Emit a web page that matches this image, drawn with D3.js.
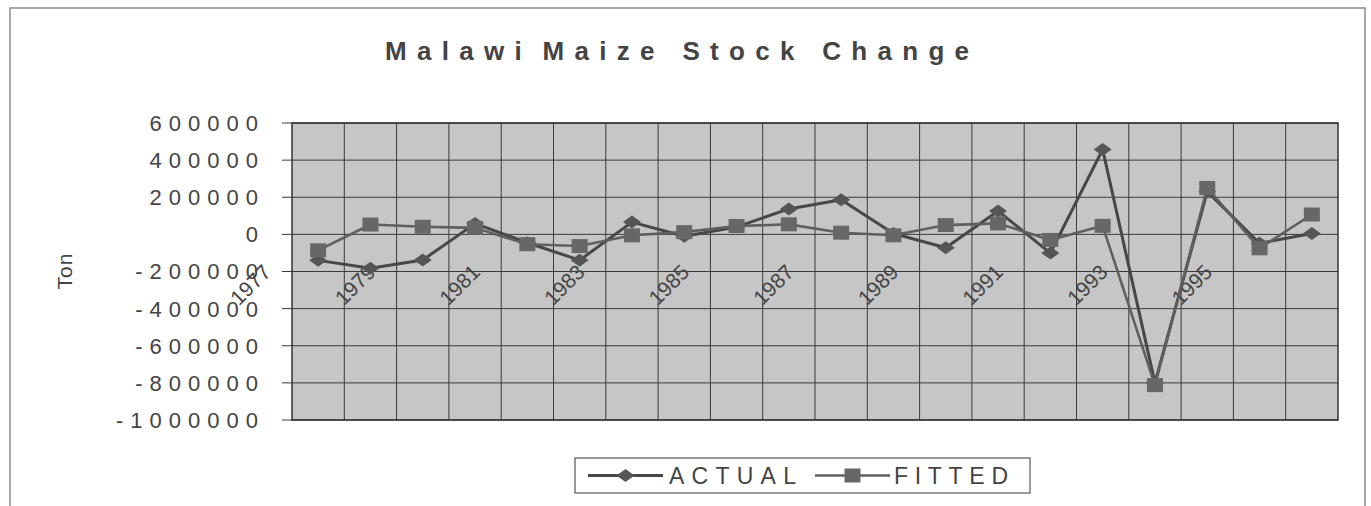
<!DOCTYPE html>
<html>
<head>
<meta charset="utf-8">
<script src="https://unpkg.com/d3@7/dist/d3.min.js"></script>
<style>
  body { margin: 0; background: #fff; }
  svg { display: block; font-family: Arial, "Liberation Sans", sans-serif; }
</style>
</head>
<body>
<script>
// data (tons)
const years = d3.range(1977, 1997);
const actual = [-140000, -182000, -138000, 58000, -45000, -139000, 66000, -10000, 40000, 137000,
  187000, 5000, -72000, 126000, -101000, 457000, -800000, 230000, -48000, 5000];
const fitted = [-86000, 53000, 41000, 35000, -53000, -63000, -5000, 12000, 45000, 54000,
  9000, -5000, 50000, 59000, -30000, 46000, -812000, 250000, -75000, 107000];
const yTicks = [600000, 400000, 200000, 0, -200000, -400000, -600000, -800000, -1000000];
const xTickYears = years.filter((d) => (d - 1977) % 2 === 0);

// layout
const width = 1371;
const height = 506;
const plot = { left: 292, right: 1338, top: 123, bottom: 420 };
const ink = "#444";

const svg = d3.select("body").append("svg").attr("width", width).attr("height", height);

// chart area border
svg.append("rect")
  .attr("x", 10).attr("y", 8)
  .attr("width", 1355).attr("height", 520)
  .attr("fill", "#fff")
  .attr("stroke", "#8a8a8a")
  .attr("stroke-width", 1.5);

const x = d3.scaleBand().domain(years).range([plot.left, plot.right]).padding(0);
const y = d3.scaleLinear().domain([-1000000, 600000]).range([plot.bottom, plot.top]);
const cx = (d) => x(d) + x.bandwidth() / 2;

// plot background
svg.append("rect")
  .attr("x", plot.left).attr("y", plot.top)
  .attr("width", plot.right - plot.left).attr("height", plot.bottom - plot.top)
  .attr("fill", "#c6c6c6");

// grid
const grid = svg.append("g").attr("stroke", "#3a3a3a").attr("stroke-width", 1);
grid.selectAll("line.h")
  .data(yTicks)
  .join("line")
  .attr("class", "h")
  .attr("x1", plot.left - 10).attr("x2", plot.right)
  .attr("y1", (d) => y(d)).attr("y2", (d) => y(d));
grid.selectAll("line.v")
  .data(years.slice(1))
  .join("line")
  .attr("class", "v")
  .attr("x1", (d) => x(d)).attr("x2", (d) => x(d))
  .attr("y1", plot.top).attr("y2", plot.bottom);

svg.append("rect")
  .attr("x", plot.left).attr("y", plot.top)
  .attr("width", plot.right - plot.left).attr("height", plot.bottom - plot.top)
  .attr("fill", "none")
  .attr("stroke", "#333")
  .attr("stroke-width", 1.5);

// y axis labels
const tickSpacing = 7;
svg.append("g")
  .selectAll("text")
  .data(yTicks)
  .join("text")
  .attr("x", 258 + tickSpacing)
  .attr("y", (d) => y(d))
  .attr("dy", "0.36em")
  .attr("text-anchor", "end")
  .attr("letter-spacing", tickSpacing)
  .attr("font-size", 22)
  .attr("fill", ink)
  .text((d) => d);

svg.append("text")
  .attr("transform", "translate(72,271) rotate(-90)")
  .attr("text-anchor", "middle")
  .attr("font-size", 21)
  .attr("letter-spacing", 1)
  .attr("fill", ink)
  .text("Ton");

// x axis labels (rotated, sitting just under the zero line)
svg.append("g")
  .selectAll("text")
  .data(xTickYears)
  .join("text")
  .attr("transform", (d) => `translate(${cx(d) - 46},${y(0) + 39}) rotate(-45)`)
  .attr("text-anchor", "end")
  .attr("font-size", 21)
  .attr("fill", ink)
  .text((d) => d);

// series
const series = [
  { name: "ACTUAL", values: actual, stroke: "#474747", lw: 3, fill: "#555", shape: "diamond" },
  { name: "FITTED", values: fitted, stroke: "#5f5f5f", lw: 2.6, fill: "#676767", shape: "square" },
];

const line = d3.line().x((d) => cx(d.year)).y((d) => y(d.value));
const diamond = (mx, my) => `M${mx - 9},${my}L${mx},${my - 6.5}L${mx + 9},${my}L${mx},${my + 6.5}Z`;
const square = (mx, my) => `M${mx - 8},${my - 7}h16v14h-16Z`;

series.forEach((s) => {
  const pts = years.map((yr, i) => ({ year: yr, value: s.values[i] }));
  const g = svg.append("g");
  g.append("path")
    .datum(pts)
    .attr("d", line)
    .attr("fill", "none")
    .attr("stroke", s.stroke)
    .attr("stroke-width", s.lw)
    .attr("stroke-linejoin", "round");
  g.selectAll("path.m")
    .data(pts)
    .join("path")
    .attr("class", "m")
    .attr("d", (d) => (s.shape === "diamond" ? diamond : square)(cx(d.year), y(d.value)))
    .attr("fill", s.fill);
});

// title: spaced letters, the gap after "Malawi" is as narrow as a letter gap
const title = svg.append("text")
  .attr("x", 385)
  .attr("y", 60)
  .attr("font-size", 26)
  .attr("font-weight", "bold")
  .attr("letter-spacing", 10.3)
  .attr("fill", ink);
title.append("tspan").text("Malawi ");
title.append("tspan").attr("dx", -7).text("Maize Stock Change");

// legend
const legend = svg.append("g");
legend.append("rect")
  .attr("x", 575).attr("y", 458)
  .attr("width", 455).attr("height", 35)
  .attr("fill", "#fff")
  .attr("stroke", "#555")
  .attr("stroke-width", 1.2);

const legendItems = [
  { s: series[0], x1: 588, x2: 663, tx: 669, tw: 127 },
  { s: series[1], x1: 815, x2: 890, tx: 894, tw: 114 },
];
legendItems.forEach((it) => {
  const ly = 475.5;
  legend.append("line")
    .attr("x1", it.x1).attr("x2", it.x2)
    .attr("y1", ly).attr("y2", ly)
    .attr("stroke", it.s.stroke)
    .attr("stroke-width", it.s.lw);
  const mx = (it.x1 + it.x2) / 2;
  legend.append("path")
    .attr("d", (it.s.shape === "diamond" ? diamond : square)(mx, ly))
    .attr("fill", it.s.fill);
  const t = legend.append("text")
    .attr("x", it.tx)
    .attr("y", ly)
    .attr("dy", "0.36em")
    .attr("font-size", 23)
    .attr("fill", ink)
    .text(it.s.name);
  fitText(t, it.tw);
});

// spread letters so a text spans the given width
function fitText(sel, target) {
  const node = sel.node();
  const n = node.textContent.length;
  const w = node.getComputedTextLength();
  sel.attr("letter-spacing", (target - w) / (n - 1));
}
</script>
</body>
</html>
